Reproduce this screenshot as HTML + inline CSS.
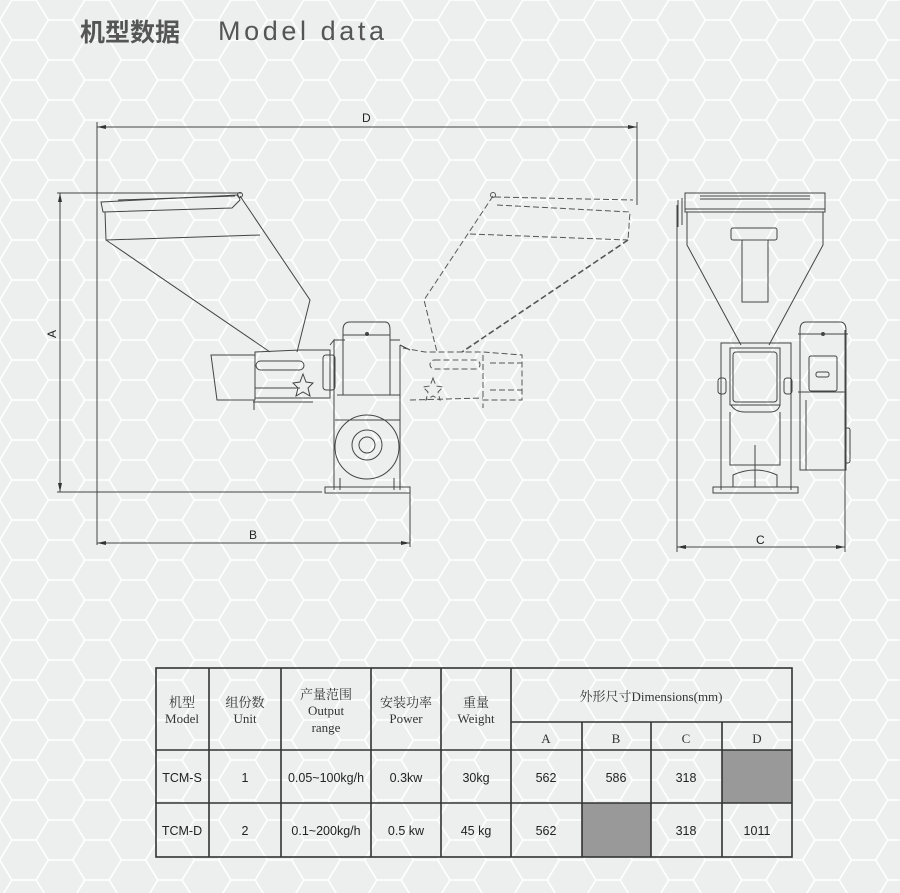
<!DOCTYPE html>
<html><head><meta charset="utf-8">
<style>
html,body{margin:0;padding:0;background:#edefee;}
svg{display:block}
.t{font-family:"Liberation Serif","Noto Serif CJK SC",serif;font-size:13px;fill:#333;text-anchor:middle}
.b{font-family:"Liberation Sans","Noto Sans CJK SC",sans-serif;font-size:12.5px;fill:#222;text-anchor:middle}
</style></head><body>
<svg width="900" height="893" viewBox="0 0 900 893" xmlns="http://www.w3.org/2000/svg">
<defs>
<pattern id="hex" width="73" height="40" patternUnits="userSpaceOnUse" x="24" y="20">
<path d="M24.33 0H48.67M24.33 0L12.17 20L24.33 40M48.67 0L60.83 20L48.67 40M60.83 20H73M0 20H12.17M24.33 40H48.67" stroke="#fff" stroke-width="1.6" fill="none"/>
</pattern>
</defs>
<rect width="900" height="893" fill="#edefee"/>
<rect width="900" height="893" fill="url(#hex)"/>

<text x="80" y="41" font-family="'Liberation Sans','Noto Sans CJK SC',sans-serif" font-weight="bold" font-size="25" fill="#555">机型数据</text>
<text x="218" y="40" font-family="'Liberation Sans',sans-serif" font-size="27" letter-spacing="3.6" fill="#555">Model data</text>

<g stroke="#444" stroke-width="1" fill="none">
<path d="M97 127H637M97 122V545M637 122V205"/>
<path d="M57 193H242M57 492H322M60 193V492"/>
<path d="M97 543H410M410 488V547"/>
<path d="M677 547H845M677 205V552M845 330V552"/>
</g>
<g fill="#333">
<path d="M97 127l9 -2v4z"/><path d="M637 127l-9 -2v4z"/>
<path d="M60 193l-2 9h4z"/><path d="M60 492l-2 -9h4z"/>
<path d="M97 543l9 -2v4z"/><path d="M410 543l-9 -2v4z"/>
<path d="M677 547l9 -2v4z"/><path d="M845 547l-9 -2v4z"/>
</g>
<g font-family="'Liberation Sans',sans-serif" font-size="12" fill="#222">
<text x="362" y="122">D</text>
<text x="249" y="539">B</text>
<text x="756" y="544">C</text>
<text x="55" y="347" transform="rotate(-90 51 342)">A</text>
</g>

<g stroke="#444" stroke-width="1" fill="none">
<path d="M101 202L238 195L240 200L232 208L103 212Z"/>
<path d="M118 200L235 196"/>
<path d="M105 212L106 240L260 235M106 240L270 352M240 196L310 300L297 352"/>
<circle cx="240" cy="195" r="2.5"/>
<path d="M211 355H255V400H217Z"/>
<path d="M255 352L300 350H330V398H255Z"/>
<rect x="256" y="361" width="48" height="9" rx="4.5"/>
<path d="M255 388H300M253 402H313M254 400V410"/>
<path d="M300 382l3 -8l3 8l7 1l-5 5l2 8l-7 -4l-7 4l2 -8l-5 -5z"/>
<rect x="323" y="355" width="12" height="35" rx="3"/>
<path d="M330 345L334 340V490M400 345V490M334 340H345M390 340H400M400 345L410 350"/>
<path d="M343 330Q343 322 350 322H385Q390 322 390 330V395H343Z"/>
<path d="M343 335H390M337 395H400"/>
<circle cx="367" cy="334" r="1.5" fill="#444"/>
<circle cx="367" cy="447" r="32"/>
<circle cx="367" cy="445" r="15"/>
<circle cx="367" cy="445" r="8"/>
<path d="M335 420H400M340 490V478M394 490V478"/>
<rect x="325" y="487" width="85" height="6"/>
</g>

<g stroke="#555" stroke-width="1" fill="none" stroke-dasharray="6 3">
<circle cx="493" cy="195" r="2.5" stroke-dasharray="none"/>
<path d="M495 197L633 200M497 205L630 212L628 240M470 234L628 240M493 196L424 300L437 352"/>
<path d="M628 240L462 352" stroke-width="1.6"/>
<path d="M403 348L425 352H483L522 355V400H483L483 408M410 400L483 398"/>
<rect x="430" y="360" width="50" height="9" rx="4.5"/>
<path d="M483 355V400M490 363H522M490 390H522"/>
<path d="M433 378l3 8l7 1l-5 5l2 8l-7 -4l-7 4l2 -8l-5 -5l7 -1z"/>
</g>

<g stroke="#444" stroke-width="1" fill="none">
<rect x="685" y="193" width="140" height="19"/>
<path d="M700 196H810M700 199H810M685 209H825"/>
<path d="M678 200V227M682 198V225"/>
<path d="M687 212V245L741 345M823 212V245L769 345"/>
<rect x="731" y="228" width="46" height="12" rx="2"/>
<rect x="742" y="240" width="26" height="62"/>
<path d="M721 490V343H791V490"/>
<path d="M730 348H780V405H730Z"/>
<rect x="733" y="352" width="44" height="50" rx="3"/>
<path d="M731 405Q735 412 745 412H770Q778 412 780 405"/>
<rect x="718" y="378" width="8" height="16" rx="3"/>
<rect x="784" y="378" width="8" height="16" rx="3"/>
<path d="M730 412V465H780V412"/>
<rect x="713" y="487" width="85" height="6"/>
<path d="M733 487V475Q755 465 777 475V487M755 445V487"/>
<path d="M800 330Q800 322 806 322H840Q846 322 846 330V392H800Z"/>
<path d="M798 334H848"/>
<circle cx="823" cy="334" r="1.5" fill="#444"/>
<rect x="809" y="356" width="28" height="35" rx="2"/>
<rect x="816" y="372" width="13" height="5" rx="2"/>
<path d="M798 392H846V470H800V392M806 400V470"/>
<rect x="845" y="428" width="5" height="35" rx="2"/>
</g>

<g fill="#999"><rect x="722" y="750" width="70" height="53"/><rect x="582" y="803" width="69" height="54"/></g>
<g stroke="#333" stroke-width="1.6" fill="none">
<rect x="156" y="668" width="636" height="189"/>
<path d="M209 668V857M281 668V857M371 668V857M441 668V857M511 668V857M582 722V857M651 722V857M722 722V857"/>
<path d="M511 722H792M156 750H792M156 803H792"/>
</g>
<g class="t">
<text x="182" y="707">机型</text><text x="182" y="723">Model</text>
<text x="245" y="707">组份数</text><text x="245" y="723">Unit</text>
<text x="326" y="699">产量范围</text><text x="326" y="715">Output</text><text x="326" y="732">range</text>
<text x="406" y="707">安装功率</text><text x="406" y="723">Power</text>
<text x="476" y="707">重量</text><text x="476" y="723">Weight</text>
<text x="651" y="701">外形尺寸Dimensions(mm)</text>
<text x="546" y="743">A</text><text x="616" y="743">B</text><text x="686" y="743">C</text><text x="757" y="743">D</text>
</g>
<g class="b">
<text x="182" y="782">TCM-S</text><text x="245" y="782">1</text><text x="326" y="782">0.05~100kg/h</text><text x="406" y="782">0.3kw</text><text x="476" y="782">30kg</text><text x="546" y="782">562</text><text x="616" y="782">586</text><text x="686" y="782">318</text>
<text x="182" y="835">TCM-D</text><text x="245" y="835">2</text><text x="326" y="835">0.1~200kg/h</text><text x="406" y="835">0.5 kw</text><text x="476" y="835">45 kg</text><text x="546" y="835">562</text><text x="686" y="835">318</text><text x="757" y="835">1011</text>
</g>
</svg>
</body></html>
